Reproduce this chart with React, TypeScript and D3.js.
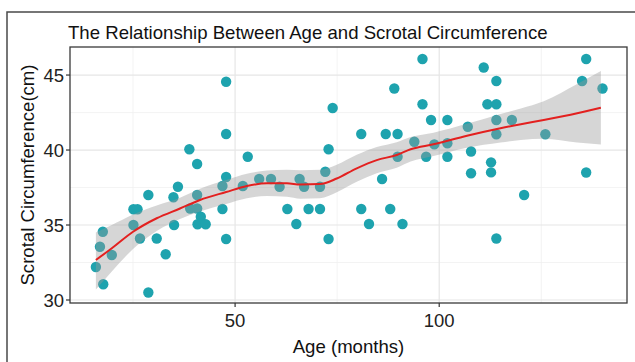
import React from "react";
import * as d3 from "d3";

const title = "The Relationship Between Age and Scrotal Circumference";
const xLabel = "Age (months)";
const yLabel = "Scrotal Circumference(cm)";

const ageMonths = [
  15.9, 16.9, 17.6, 17.7, 19.8, 25.1, 26.1, 25.1, 26.7, 28.75, 28.75, 30.8, 33.0, 34.9, 35.05, 36.0,
  38.8, 40.7, 39.0, 40.7, 40.7, 41.6, 40.8, 42.8, 46.9, 46.9, 47.8, 47.8, 47.8, 47.8, 51.9, 53.1,
  55.9, 58.8, 60.9, 62.8, 65.0, 65.8, 66.9, 68.0, 70.8, 70.8, 72.1, 72.9, 73.9, 72.9, 80.9, 80.9,
  82.8, 86.0, 86.9, 89.8, 88.0, 91.0, 89.8, 89.0, 93.9, 95.9, 95.9, 98.0, 102.0, 96.8, 98.8, 102.0,
  102.0, 107.0, 107.8, 107.8, 110.9, 114.0, 111.8, 114.0, 114.0, 114.0, 117.8, 112.7, 112.7, 114.0,
  120.8, 126.0, 136.0, 135.0, 140.0, 136.0,
];
const circumferenceCm = [
  32.2, 33.55, 34.55, 31.05, 33.0, 36.05, 36.05, 35.0, 34.1, 37.0, 30.5, 34.1, 33.05, 36.85, 35.0, 37.55,
  40.05, 39.07, 36.1, 37.0, 36.1, 35.55, 35.05, 35.05, 37.6, 36.07, 44.55, 41.07, 38.2, 34.07, 37.6, 39.55,
  38.07, 38.07, 37.55, 36.07, 35.07, 38.07, 37.55, 36.07, 36.07, 37.55, 38.55, 40.05, 42.8, 34.07, 41.07, 36.07,
  35.07, 38.07, 41.07, 41.07, 36.07, 35.07, 39.55, 44.1, 40.55, 46.07, 43.05, 42.0, 42.0, 39.55, 40.38, 40.45,
  39.55, 41.55, 39.9, 38.45, 45.5, 44.6, 43.05, 43.05, 42.0, 41.05, 42.0, 39.18, 38.51, 34.1,
  37.0, 41.05, 46.07, 44.6, 44.1, 38.5,
];

const smoothAge = [15.9, 19.8, 25, 30.8, 36.5, 41.4, 47.8, 52.9, 57.8, 62.7, 66, 70.8, 74.9, 79.8, 84.7, 89.6, 93, 98.6, 106.8, 115, 120, 125.6, 133.8, 139.6];
const smoothFit = [32.67, 33.45, 34.55, 35.45, 36.1, 36.67, 37.2, 37.6, 37.78, 37.78, 37.7, 37.73, 38.1, 38.78, 39.33, 39.67, 40.05, 40.38, 40.95, 41.45, 41.72, 42.0, 42.45, 42.82];
const smoothLower = [30.7, 31.9, 33.4, 34.6, 35.4, 35.9, 36.4, 36.78, 36.93, 36.88, 36.75, 36.78, 37.18, 37.88, 38.46, 38.82, 39.23, 39.6, 40.15, 40.5, 40.67, 40.75, 40.5, 40.37];
const smoothUpper = [34.5, 35.0, 35.7, 36.3, 36.82, 37.42, 38.0, 38.42, 38.63, 38.68, 38.65, 38.68, 39.02, 39.68, 40.2, 40.52, 40.87, 41.16, 41.75, 42.4, 42.77, 43.25, 44.4, 45.27];

const xMajorTicks = [50, 100];
const xMinorTicks = [25, 75, 125];
const yMajorTicks = [30, 35, 40, 45];
const yMinorTicks = [32.5, 37.5, 42.5];

const W = 635;
const H = 362;
const panel = { left: 70, right: 627, top: 47, bottom: 303 };
const FONT = "'Liberation Sans', Arial, sans-serif";

export default function App() {
  const x = d3.scaleLinear().domain([9.56, 146]).range([panel.left, panel.right]);
  const y = d3.scaleLinear().domain([29.8, 46.87]).range([panel.bottom, panel.top]);

  const points = ageMonths.map((a, i) => ({ a, c: circumferenceCm[i] }));
  const smooth = smoothAge.map((a, i) => ({ a, f: smoothFit[i], lo: smoothLower[i], hi: smoothUpper[i] }));

  const line = d3
    .line<{ a: number; f: number }>()
    .x((d) => x(d.a))
    .y((d) => y(d.f))
    .curve(d3.curveMonotoneX);
  const area = d3
    .area<{ a: number; lo: number; hi: number }>()
    .x((d) => x(d.a))
    .y0((d) => y(d.lo))
    .y1((d) => y(d.hi))
    .curve(d3.curveMonotoneX);

  return (
    <svg
      width={W}
      height={H}
      style={{ position: "absolute", left: 0, top: 0, background: "#fff" }}
      fontFamily={FONT}
    >
      <rect x={0} y={0} width={W} height={H} fill="#fff" />
      {/* outer frame */}
      <path d={`M${W + 5},12 H7 V${H + 5}`} fill="none" stroke="#4a4a4a" strokeWidth={1.5} />

      {/* grid */}
      <g>
        {yMinorTicks.map((t) => (
          <line key={"ym" + t} x1={panel.left} x2={panel.right} y1={y(t)} y2={y(t)} stroke="#f0f0f0" strokeWidth={0.8} />
        ))}
        {xMinorTicks.map((t) => (
          <line key={"xm" + t} y1={panel.top} y2={panel.bottom} x1={x(t)} x2={x(t)} stroke="#f0f0f0" strokeWidth={0.8} />
        ))}
        {yMajorTicks.map((t) => (
          <line key={"yM" + t} x1={panel.left} x2={panel.right} y1={y(t)} y2={y(t)} stroke="#e6e6e6" strokeWidth={1.2} />
        ))}
        {xMajorTicks.map((t) => (
          <line key={"xM" + t} y1={panel.top} y2={panel.bottom} x1={x(t)} x2={x(t)} stroke="#e6e6e6" strokeWidth={1.2} />
        ))}
      </g>

      {/* points */}
      <g fill="#1ea3ae">
        {points.map((p, i) => (
          <circle key={i} cx={x(p.a)} cy={y(p.c)} r={5.2} />
        ))}
      </g>

      {/* smooth ribbon and line */}
      <path d={area(smooth) || ""} fill="#999999" fillOpacity={0.4} />
      <path d={line(smooth) || ""} fill="none" stroke="#e3201f" strokeWidth={2} />

      {/* panel border */}
      <rect
        x={panel.left}
        y={panel.top}
        width={panel.right - panel.left}
        height={panel.bottom - panel.top}
        fill="none"
        stroke="#3a3a3a"
        strokeWidth={1.3}
      />

      {/* y axis ticks and labels */}
      {yMajorTicks.map((t) => (
        <g key={"yt" + t}>
          <line x1={panel.left - 4} x2={panel.left} y1={y(t)} y2={y(t)} stroke="#333" strokeWidth={1.2} />
          <text x={panel.left - 6} y={y(t) + 6.6} textAnchor="end" fontSize={18.5} fill="#222">
            {t}
          </text>
        </g>
      ))}

      {/* x axis ticks and labels */}
      {xMajorTicks.map((t) => (
        <g key={"xt" + t}>
          <line x1={x(t)} x2={x(t)} y1={panel.bottom} y2={panel.bottom + 4} stroke="#333" strokeWidth={1.2} />
          <text x={x(t)} y={327} textAnchor="middle" fontSize={18.5} fill="#222">
            {t}
          </text>
        </g>
      ))}

      {/* titles */}
      <text x={68} y={39} fontSize={18.6} fill="#111">
        {title}
      </text>
      <text x={(panel.left + panel.right) / 2} y={353} textAnchor="middle" fontSize={18.6} fill="#111">
        {xLabel}
      </text>
      <text
        transform={`translate(34, ${(panel.top + panel.bottom) / 2}) rotate(-90)`}
        textAnchor="middle"
        fontSize={18.6}
        fill="#111"
      >
        {yLabel}
      </text>
    </svg>
  );
}
